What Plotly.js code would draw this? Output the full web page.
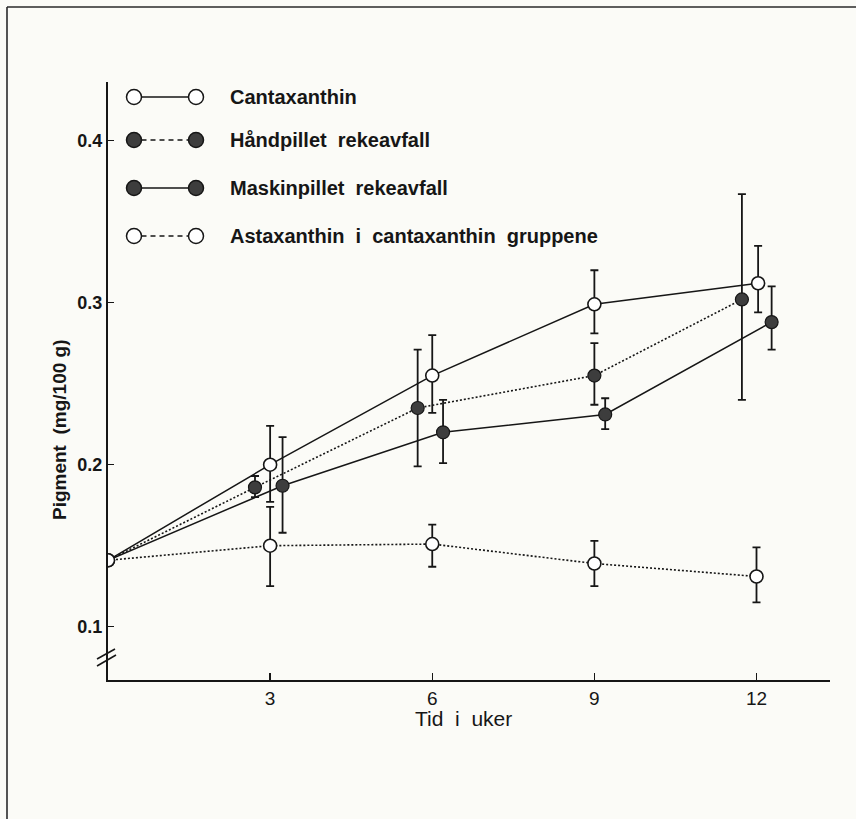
<!DOCTYPE html>
<html>
<head>
<meta charset="utf-8">
<script src="https://cdn.plot.ly/plotly-3.0.1.min.js"></script>
<style>
  html, body { margin: 0; padding: 0; background: #fbfbf7; }
  #chart { width: 856px; height: 819px; }
</style>
</head>
<body>
<div id="chart"></div>
<script>
// ---- data ----
const weeks = [0, 3, 6, 9, 12];

const cantaxanthin      = [0.141, 0.200, 0.255, 0.299, 0.312];
const cantaxErrPlus     = [0, 0.024, 0.025, 0.021, 0.023];
const cantaxErrMinus    = [0, 0.023, 0.023, 0.018, 0.018];

const haandpillet       = [0.141, 0.186, 0.235, 0.255, 0.302];
const haandErrPlus      = [0, 0.007, 0.036, 0.020, 0.065];
const haandErrMinus     = [0, 0.006, 0.036, 0.018, 0.062];

const maskinpillet      = [0.141, 0.187, 0.220, 0.231, 0.288];
const maskinErrPlus     = [0, 0.030, 0.020, 0.010, 0.022];
const maskinErrMinus    = [0, 0.029, 0.019, 0.009, 0.017];

const astaxanthin       = [0.141, 0.150, 0.151, 0.139, 0.131];
const astaErrPlus       = [0, 0.024, 0.012, 0.014, 0.018];
const astaErrMinus      = [0, 0.025, 0.014, 0.014, 0.016];

const seriesNames = ['Cantaxanthin', 'Håndpillet\u00a0\u00a0rekeavfall', 'Maskinpillet\u00a0\u00a0rekeavfall', 'Astaxanthin\u00a0\u00a0i\u00a0\u00a0cantaxanthin\u00a0\u00a0gruppene'];
const xTickVals = [3, 6, 9, 12];
const yTickVals = [0.1, 0.2, 0.3, 0.4];
const yTickText = ['0.1', '0.2', '0.3', '0.4'];

// ---- styling / layout constants ----
const INK = '#161616';
const FILL_DARK = '#3d3d3d';
const BG = '#fbfbf7';
const FONT = 'Liberation Sans, Arial, Helvetica, sans-serif';

// horizontal jitter used in the original drawing (weeks)
const cantaxShift = [0, 0, 0, 0, 0.03];
const haandShift  = [0, -0.28, -0.27, 0, -0.27];
const maskinShift = [0, 0.23, 0.20, 0.20, 0.28];
const astaShift   = [0, 0, 0, 0, 0];

const W = 856, H = 819;
const M = { l: 108, r: 26, t: 82, b: 139 };
const PW = W - M.l - M.r, PH = H - M.t - M.b;
const px = x => (x - M.l) / PW;
const py = y => (M.t + PH - y) / PH;

const shifted = (s) => weeks.map((w, i) => w + s[i]);

function errs(plus, minus) {
  return { type: 'data', symmetric: false, array: plus, arrayminus: minus,
           color: INK, thickness: 1.8, width: 4 };
}

const MS = 13;
const traces = [
  {
    x: shifted(maskinShift), y: maskinpillet, mode: 'lines+markers', name: seriesNames[2],
    line: { color: INK, width: 1.5 },
    marker: { size: [0, MS, MS, MS, MS], opacity: 1, color: FILL_DARK, line: { color: INK, width: 1.2 } },
    error_y: errs(maskinErrPlus, maskinErrMinus)
  },
  {
    x: shifted(haandShift), y: haandpillet, mode: 'lines+markers', name: seriesNames[1],
    line: { color: INK, width: 1.6, dash: '2px,2px' },
    marker: { size: [0, MS, MS, MS, MS], opacity: 1, color: FILL_DARK, line: { color: INK, width: 1.2 } },
    error_y: errs(haandErrPlus, haandErrMinus)
  },
  {
    x: shifted(astaShift), y: astaxanthin, mode: 'lines+markers', name: seriesNames[3],
    line: { color: INK, width: 1.6, dash: '2px,2px' },
    marker: { size: MS, opacity: 1, color: '#ffffff', line: { color: INK, width: 1.6 } },
    error_y: errs(astaErrPlus, astaErrMinus)
  },
  {
    x: shifted(cantaxShift), y: cantaxanthin, mode: 'lines+markers', name: seriesNames[0],
    line: { color: INK, width: 1.5 },
    marker: { size: MS, opacity: 1, color: '#ffffff', line: { color: INK, width: 1.6 } },
    error_y: errs(cantaxErrPlus, cantaxErrMinus)
  }
];

// ---- hand-drawn legend (two markers joined by a line) ----
const legendRows = [97, 140, 188, 236];
const legendFilled = [false, true, true, false];
const legendDash = ['solid', 'dash', 'solid', 'dash'];
const LX1 = 134, LX2 = 196, LR = 7.5, LTEXT = 228;

const shapes = [];
const annotations = [];
legendRows.forEach((ry, i) => {
  shapes.push({ type: 'line', xref: 'paper', yref: 'paper',
    x0: px(LX1 + LR), x1: px(LX2 - LR), y0: py(ry), y1: py(ry),
    line: { color: INK, width: 1.6, dash: legendDash[i] === 'dash' ? '5px,4px' : 'solid' } });
  [LX1, LX2].forEach(cx => {
    shapes.push({ type: 'circle', xref: 'paper', yref: 'paper',
      x0: px(cx - LR), x1: px(cx + LR), y0: py(ry + LR), y1: py(ry - LR),
      fillcolor: legendFilled[i] ? FILL_DARK : '#ffffff',
      line: { color: INK, width: 1.5 } });
  });
  annotations.push({ xref: 'paper', yref: 'paper', x: px(LTEXT), y: py(ry),
    xanchor: 'left', yanchor: 'middle', showarrow: false, text: seriesNames[i],
    font: { family: FONT, size: 20, color: INK, weight: 'bold' } });
});

// axis break marks
shapes.push({ type: 'line', xref: 'paper', yref: 'paper', x0: px(97), y0: py(659), x1: px(115), y1: py(649), line: { color: INK, width: 1.6 } });
shapes.push({ type: 'line', xref: 'paper', yref: 'paper', x0: px(97), y0: py(666), x1: px(116), y1: py(655), line: { color: INK, width: 1.6 } });

// page frame (left and top edges)
shapes.push({ type: 'line', xref: 'paper', yref: 'paper', x0: px(7), y0: py(7), x1: px(7), y1: py(819), line: { color: '#2a2a2a', width: 1.6 } });
shapes.push({ type: 'line', xref: 'paper', yref: 'paper', x0: px(7), y0: py(7), x1: px(856), y1: py(7), line: { color: '#2a2a2a', width: 1.6 } });

// axis titles
annotations.push({ xref: 'paper', yref: 'paper', x: px(59), y: py(430), textangle: -90,
  showarrow: false, xanchor: 'center', yanchor: 'middle',
  text: 'Pigment\u00a0\u00a0(mg/100\u00a0g)', font: { family: FONT, size: 19, color: INK, weight: 'bold' } });
annotations.push({ xref: 'paper', yref: 'paper', x: px(463), y: py(718),
  showarrow: false, xanchor: 'center', yanchor: 'middle',
  text: 'Tid\u00a0\u00a0i\u00a0\u00a0uker', font: { family: FONT, size: 21, color: INK } });

const layout = {
  width: W, height: H, margin: M,
  paper_bgcolor: BG, plot_bgcolor: BG,
  showlegend: false,
  xaxis: {
    range: [0, 13.36], tickvals: xTickVals, ticks: 'inside', ticklen: 7, tickwidth: 1.5,
    tickcolor: INK, showline: true, linewidth: 2, linecolor: INK, showgrid: false, zeroline: false,
    tickfont: { family: FONT, size: 19, color: INK }, fixedrange: true
  },
  yaxis: {
    range: [0.0671, 0.4362], tickvals: yTickVals, ticktext: yTickText, ticks: 'inside', ticklen: 6,
    tickwidth: 1.5, tickcolor: INK, showline: true, linewidth: 2, linecolor: INK, showgrid: false,
    zeroline: false, tickfont: { family: FONT, size: 18, color: INK, weight: 'bold' }, fixedrange: true
  },
  shapes: shapes,
  annotations: annotations
};

Plotly.newPlot('chart', traces, layout, { displayModeBar: false, staticPlot: true });
</script>
</body>
</html>
